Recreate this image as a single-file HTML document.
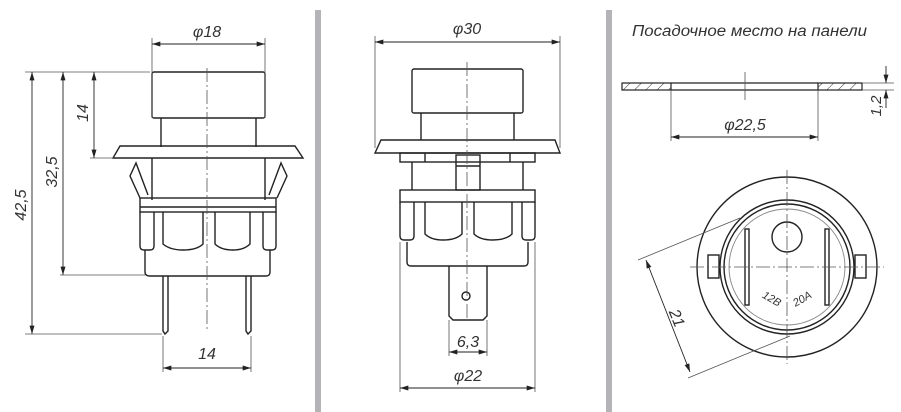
<!DOCTYPE html>
<html><head><meta charset="utf-8"><style>
html,body{margin:0;padding:0;background:#fff}
svg{display:block}
text{font-family:"Liberation Sans",sans-serif;font-style:italic;fill:#333}
</style></head><body>
<svg width="901" height="412" viewBox="0 0 901 412" xmlns="http://www.w3.org/2000/svg">
<defs>
<marker id="a" viewBox="0 0 10 6" refX="10" refY="3" markerWidth="14" markerHeight="5" orient="auto-start-reverse" markerUnits="userSpaceOnUse"><path d="M0,0L10,3L0,6z" fill="#222"/></marker>
<pattern id="h" width="8" height="8" patternUnits="userSpaceOnUse" patternTransform="rotate(45)"><line x1="0" y1="0" x2="0" y2="8" stroke="#333" stroke-width="1"/></pattern>
</defs>
<rect x="315" y="10" width="6" height="402" fill="#b4b4b8"/>
<rect x="606" y="10" width="6" height="402" fill="#b4b4b8"/>

<!-- PANEL 1 -->
<g fill="none" stroke="#222" stroke-width="1.4">
<rect x="152" y="72" width="113" height="46" rx="2"/>
<path d="M161 118V147M256 118V147"/>
<path d="M120 146H295L303 158H113Z"/>
<path d="M152 158V200M265 158V200"/>
<path d="M140 198L130 176L136 163L148 195M277 198L287 176L281 163L269 195"/>
<rect x="140" y="198" width="136" height="14"/>
<path d="M140 207H276"/>
<path d="M140 212V246Q140 250 144 250H150Q154 250 154 246V212M163 212V244Q170 250 183 250Q197 250 203 244V212M215 212V244Q221 250 233 250Q244 250 250 244V212M263 212V246Q263 250 267 250H272Q276 250 276 246V212"/>
<path d="M145 250V272Q145 276 150 276H266Q270 276 270 272V250"/>
<path d="M163 276V331L165 334L168 331V276M246 276V331L248 334L251 331V276"/>
</g>
<g stroke="#555" stroke-width="0.8" fill="none">
<path d="M207 68V330" stroke-dasharray="14 3 2 3"/>
<path d="M152 118V38M265 118V38"/>
<path d="M25 72H150M25 334H162M60 275H145M90 158H114M163 336V372M251 336V372"/>
</g>
<g stroke="#222" stroke-width="0.9" fill="none">
<line x1="152" y1="44" x2="265" y2="44" marker-start="url(#a)" marker-end="url(#a)"/>
<line x1="32" y1="72" x2="32" y2="334" marker-start="url(#a)" marker-end="url(#a)"/>
<line x1="63" y1="72" x2="63" y2="275" marker-start="url(#a)" marker-end="url(#a)"/>
<line x1="94" y1="72" x2="94" y2="158" marker-start="url(#a)" marker-end="url(#a)"/>
<line x1="163" y1="368" x2="251" y2="368" marker-start="url(#a)" marker-end="url(#a)"/>
</g>
<text x="207" y="37" font-size="16" text-anchor="middle">φ18</text>
<text x="207" y="359" font-size="16" text-anchor="middle">14</text>
<text transform="translate(26,205) rotate(-90)" font-size="16" text-anchor="middle">42,5</text>
<text transform="translate(57,172) rotate(-90)" font-size="16" text-anchor="middle">32,5</text>
<text transform="translate(88,113) rotate(-90)" font-size="16" text-anchor="middle">14</text>

<!-- PANEL 2 -->
<g fill="none" stroke="#222" stroke-width="1.4">
<rect x="412" y="69" width="111" height="44" rx="2"/>
<path d="M421 113V140M514 113V140"/>
<path d="M381 140H555L560 153H375Z"/>
<rect x="400" y="153" width="135" height="9"/>
<path d="M425 153V162M510 153V162"/>
<path d="M412 162V190M523 162V190"/>
<rect x="456" y="155" width="24" height="35"/>
<path d="M456 166H480"/>
<rect x="400" y="190" width="135" height="12"/>
<path d="M400 202V236Q400 240 404 240H410Q414 240 414 236V202M425 202V234Q431 240 443 240Q456 240 462 234V202M474 202V234Q480 240 493 240Q506 240 512 234V202M522 202V236Q522 240 526 240H531Q535 240 535 236V202"/>
<path d="M407 242V262Q407 266 411 266H524Q528 266 528 262V242"/>
<path d="M449 266V316L453 320H483L487 316V266"/>
<circle cx="466" cy="296" r="4"/>
</g>
<g stroke="#555" stroke-width="0.8" fill="none">
<path d="M467 62V318" stroke-dasharray="14 3 2 3"/>
<path d="M375 148V36M560 148V36M400 242V392M535 242V392M449 320V356M487 320V356"/>
</g>
<g stroke="#222" stroke-width="0.9" fill="none">
<line x1="375" y1="42" x2="560" y2="42" marker-start="url(#a)" marker-end="url(#a)"/>
<line x1="449" y1="352" x2="487" y2="352" marker-start="url(#a)" marker-end="url(#a)"/>
<line x1="400" y1="388" x2="535" y2="388" marker-start="url(#a)" marker-end="url(#a)"/>
</g>
<text x="467" y="34" font-size="16" text-anchor="middle">φ30</text>
<text x="468" y="347" font-size="16" text-anchor="middle">6,3</text>
<text x="468" y="381" font-size="16" text-anchor="middle">φ22</text>

<!-- PANEL 3 -->
<text x="632" y="36" font-size="15.5" textLength="235" lengthAdjust="spacingAndGlyphs">Посадочное место на панели</text>
<rect x="622" y="83" width="49" height="7" fill="url(#h)" stroke="#222" stroke-width="1.2"/>
<rect x="818" y="83" width="44" height="7" fill="url(#h)" stroke="#222" stroke-width="1.2"/>
<path d="M671 83H818M671 90H818" stroke="#222" stroke-width="1.2"/>
<g stroke="#555" stroke-width="0.8" fill="none">
<path d="M745 72V100M671 90V141M818 90V141M862 83H894M862 90H894"/>
</g>
<g stroke="#222" stroke-width="0.9" fill="none">
<line x1="671" y1="137" x2="818" y2="137" marker-start="url(#a)" marker-end="url(#a)"/>
<line x1="886" y1="66" x2="886" y2="83" marker-end="url(#a)"/>
<line x1="886" y1="108" x2="886" y2="90" marker-end="url(#a)"/>
</g>
<text x="745" y="130" font-size="16" text-anchor="middle">φ22,5</text>
<text transform="translate(881,106) rotate(-90)" font-size="15" text-anchor="middle">1,2</text>

<g fill="none" stroke="#222" stroke-width="1.4">
<circle cx="787" cy="267" r="90"/>
<rect x="708" y="255" width="11" height="23"/>
<rect x="855" y="255" width="11" height="23"/>
<circle cx="787" cy="267" r="67" fill="#fff"/>
<circle cx="787" cy="267" r="63"/>
<circle cx="787" cy="237" r="15"/>
<rect x="745" y="229" width="4" height="76"/>
<rect x="825" y="229" width="4" height="76"/>
</g>
<circle cx="787" cy="267" r="58" fill="none" stroke="#888" stroke-width="0.9"/>
<g stroke="#555" stroke-width="0.8" fill="none">
<path d="M787 170V364M690 267H884" stroke-dasharray="14 3 2 3"/>
<path d="M638 260L740 218M688 378L790 336"/>
</g>
<line x1="646" y1="260" x2="690" y2="372" stroke="#222" stroke-width="0.9" marker-start="url(#a)" marker-end="url(#a)"/>
<text transform="translate(672,320) rotate(68)" font-size="16" text-anchor="middle">21</text>
<text transform="translate(770,302) rotate(30)" font-size="11" text-anchor="middle">12В</text>
<text transform="translate(804,302) rotate(-30)" font-size="11" text-anchor="middle">20А</text>
</svg>
</body></html>
